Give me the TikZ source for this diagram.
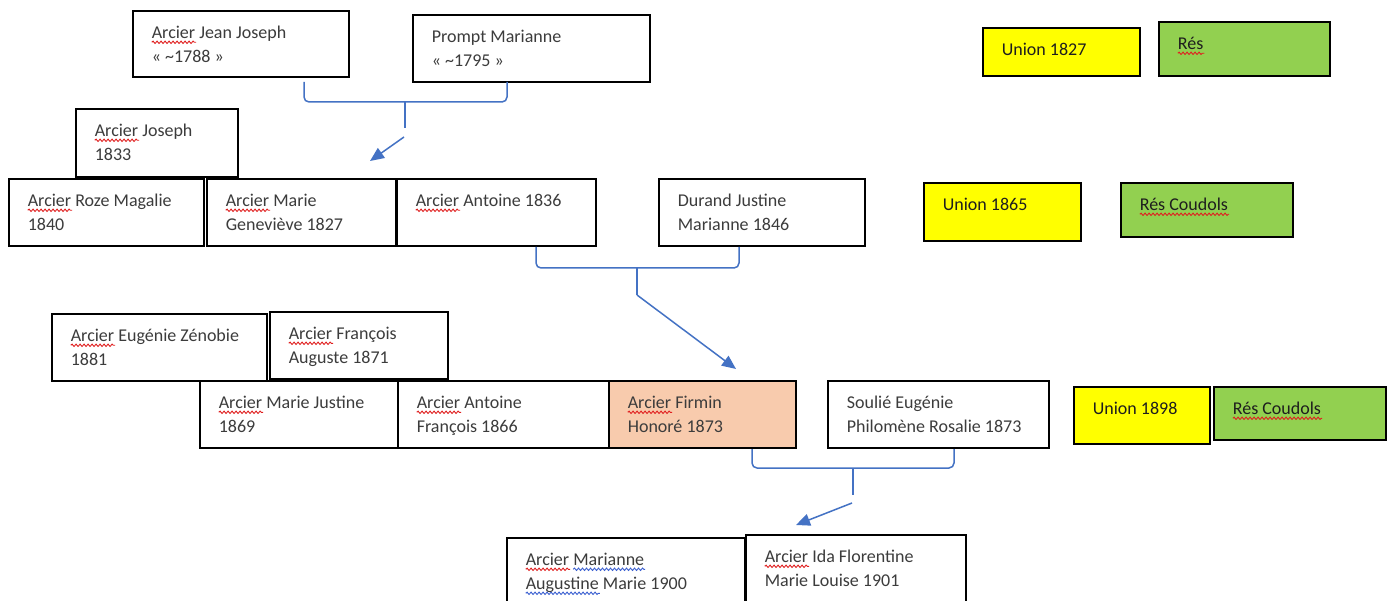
\documentclass[tikz,border=0pt]{standalone}
\usepackage{fontspec}
\setmainfont{Carlito}
\usetikzlibrary{arrows.meta,decorations.pathmorphing}
\definecolor{linkblue}{HTML}{4472C4}
\definecolor{txtgray}{HTML}{3C3C3C}
\definecolor{txtdark}{HTML}{1E1E1E}
\definecolor{unionyellow}{HTML}{FFFF00}
\definecolor{resgreen}{HTML}{92D050}
\definecolor{hlorange}{HTML}{F8CBAD}
\definecolor{sqred}{HTML}{E02020}
\definecolor{sqblue}{HTML}{3A5FD0}
\newlength\sqw
\newcommand\wavy[2]{\settowidth\sqw{#2}\leavevmode\rlap{\tikz[overlay,baseline=0pt]\draw[#1,fill=none,line width=0.9pt,decorate,decoration={snake,amplitude=1.2pt,segment length=4pt}] (0pt,-3.5pt) -- (\sqw+1pt,-3.5pt);}#2}
\newcommand\pb[7]{\node[#1, anchor=north west, inner sep=0pt] (#2) at (#3,#4) {\parbox[t][\dimexpr #6pt-#4pt\relax][t]{\dimexpr #5pt-#3pt\relax}{\raggedright\leftskip=19pt\rule{0pt}{28pt}#7}};}
\tikzset{
  pbox/.style={draw=black, line width=1.6pt, fill=white, font=\fontsize{18pt}{24pt}\selectfont, text=txtgray},
  ubox/.style={pbox, fill=unionyellow, text=txtdark},
  rbox/.style={pbox, fill=resgreen, text=txtdark},
  hbox/.style={pbox, fill=hlorange},
  link/.style={draw=linkblue, line width=1.5pt, rounded corners=5pt},
  arr/.style={draw=linkblue, line width=1.5pt, -{Triangle[length=14pt,width=12pt]}}
}
\begin{document}
\begin{tikzpicture}[x=1pt,y=-1pt]
\useasboundingbox (0,0) rectangle (1391,601);
\fill[white] (0,0) rectangle (1391,601);
% generation 1
\pb{pbox}{jj}{132}{10}{348}{76}{\wavy{sqred}{Arcier} Jean Joseph\\« \textasciitilde1788 »}
\pb{pbox}{pm}{412}{14}{649}{81}{Prompt Marianne\\« \textasciitilde1795 »}
\pb{ubox}{u1}{982}{27}{1139}{75}{Union 1827}
\pb{rbox}{r1}{1158}{21}{1329}{75}{\wavy{sqred}{Rés}}
% generation 2
\pb{pbox}{jo}{75}{108}{237}{176}{\wavy{sqred}{Arcier} Joseph\\1833}
\pb{pbox}{rz}{8}{178}{203}{245}{\wavy{sqred}{Arcier} Roze Magalie\\1840}
\pb{pbox}{mg}{206}{178}{395}{245}{\wavy{sqred}{Arcier} Marie\\Geneviève 1827}
\pb{pbox}{an}{396}{178}{595}{245}{\wavy{sqred}{Arcier} Antoine 1836}
\pb{pbox}{dj}{658}{178}{864}{245}{Durand Justine\\Marianne 1846}
\pb{ubox}{u2}{923}{182}{1080}{240}{Union 1865}
\pb{rbox}{r2}{1120}{182}{1292}{236}{\wavy{sqred}{Rés Coudols}}
% generation 3
\pb{pbox}{ez}{51}{313}{266}{380}{\wavy{sqred}{Arcier} Eugénie Zénobie\\1881}
\pb{pbox}{fa}{269}{311}{447}{378}{\wavy{sqred}{Arcier} François\\Auguste 1871}
\pb{pbox}{mj}{199}{380}{397}{447}{\wavy{sqred}{Arcier} Marie Justine\\1869}
\pb{pbox}{af}{397}{380}{608}{447}{\wavy{sqred}{Arcier} Antoine\\François 1866}
\pb{hbox}{fh}{608}{380}{795}{447}{\wavy{sqred}{Arcier} Firmin\\Honoré 1873}
\pb{pbox}{se}{827}{380}{1048}{447}{Soulié Eugénie\\Philomène Rosalie 1873}
\pb{ubox}{u3}{1073}{386}{1209}{443}{Union 1898}
\pb{rbox}{r3}{1213}{386}{1385}{439}{\wavy{sqred}{Rés Coudols}}
% generation 4
\pb{pbox}{ma}{506}{537}{744}{620}{\wavy{sqred}{Arcier} \wavy{sqblue}{Marianne}\\\wavy{sqblue}{Augustine} Marie 1900}
\pb{pbox}{ida}{745}{534}{965}{620}{\wavy{sqred}{Arcier} Ida Florentine\\Marie Louise 1901}
% braces and arrows
\coordinate (b1a) at (304,82);  \coordinate (b1b) at (507,82);
\coordinate (b1m) at (405,102); \coordinate (b1s) at (405,128);
\coordinate (a1s) at (404,137); \coordinate (a1e) at (370,161);
\draw[link] (b1a) |- (b1m) -| (b1b);
\draw[link] (b1m) -- (b1s);
\draw[arr] (a1s) -- (a1e);
\coordinate (b2a) at (536,247); \coordinate (b2b) at (739,247);
\coordinate (b2m) at (637,268); \coordinate (b2s) at (637,295);
\coordinate (a2e) at (736,369);
\draw[link] (b2a) |- (b2m) -| (b2b);
\draw[link] (b2m) -- (b2s);
\draw[arr] (b2s) -- (a2e);
\coordinate (b3a) at (752,449); \coordinate (b3b) at (954,449);
\coordinate (b3m) at (853,468); \coordinate (b3s) at (853,495);
\coordinate (a3s) at (852,503); \coordinate (a3e) at (796,525);
\draw[link] (b3a) |- (b3m) -| (b3b);
\draw[link] (b3m) -- (b3s);
\draw[arr] (a3s) -- (a3e);
\end{tikzpicture}
\end{document}
